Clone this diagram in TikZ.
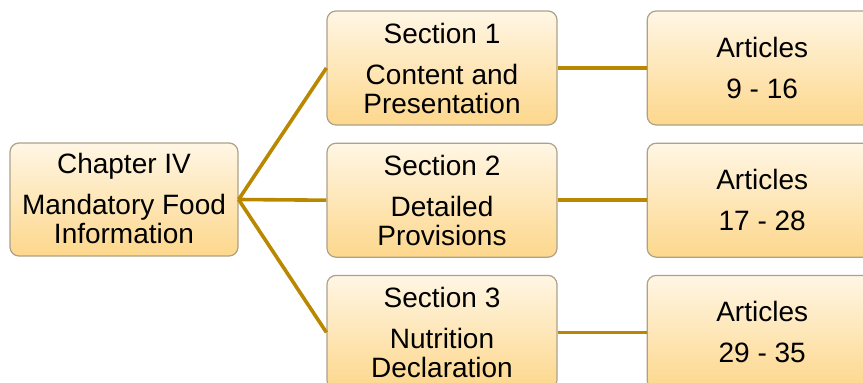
\documentclass[tikz,border=0pt]{standalone}
\usepackage{fontspec}
\setmainfont{Liberation Sans}
\usetikzlibrary{positioning}

\definecolor{boxtop}{RGB}{255,246,228}
\definecolor{boxbottom}{RGB}{253,215,140}
\definecolor{boxline}{RGB}{172,162,138}
\definecolor{linkgold}{RGB}{186,136,0}

\begin{document}
\begin{tikzpicture}[x=1pt,y=1pt,
    box/.style={draw=boxline,line width=1.2pt,rounded corners=9pt,
        top color=boxtop,bottom color=boxbottom,
        minimum width=230pt,minimum height=114pt,inner sep=0pt,
        align=center,font=\fontsize{28}{29}\selectfont},
    link/.style={draw=linkgold,line width=3.6pt}]
    \pgfmathsetmacro{\rowgap}{17}
    \pgfmathsetmacro{\colgap}{89}
    \providecommand{\headgap}{\\[12pt]}
    % page area, the last column runs off the right edge
    \clip (0,0) rectangle (863,-383);
    \node[box,minimum width=228pt,minimum height=113pt,text depth=3pt] (chapter) at (124,-199.5)
        {Chapter IV\headgap Mandatory Food\\Information};
    \node[box] (sec1) at (442,-68) {Section 1\headgap Content and\\Presentation};
    \node[box,below=\rowgap pt of sec1] (sec2) {Section 2\headgap Detailed\\Provisions};
    \node[box,below=\rowgap pt of sec2] (sec3) {Section 3\headgap Nutrition\\Declaration};
    \node[box,right=\colgap pt of sec1] (art1) {Articles\headgap 9 - 16};
    \node[box,right=\colgap pt of sec2] (art2) {Articles\headgap 17 - 28};
    \node[box,right=\colgap pt of sec3] (art3) {Articles\headgap 29 - 35};
    \foreach \i in {1,2,3}{
        \draw[link] (chapter.east) -- (sec\i.west);
        \draw[link] (sec\i.east) -- (art\i.west);
    }
\end{tikzpicture}
\end{document}
